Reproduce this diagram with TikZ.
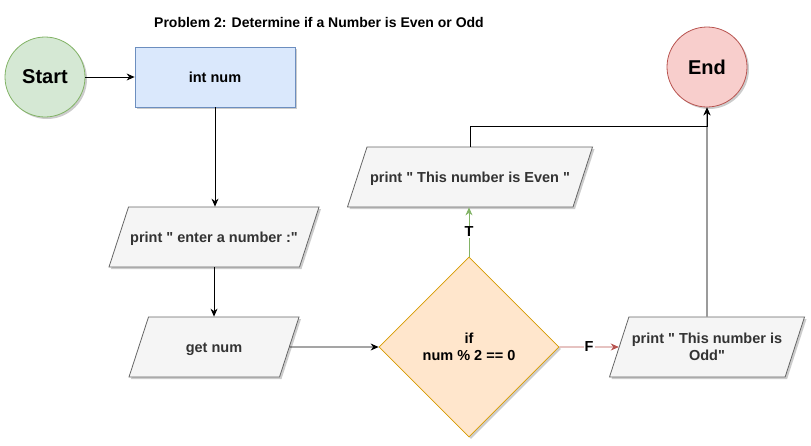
\documentclass[tikz,border=0pt]{standalone}
\usepackage{fontspec}
\setmainfont{Liberation Sans}[Ligatures=TeXOff]
\usepackage{color}
\usetikzlibrary{shapes.geometric,shadows,arrows.meta}

\definecolor{startfill}{HTML}{D5E8D4}
\definecolor{startline}{HTML}{82B366}
\definecolor{endfill}{HTML}{F8CECC}
\definecolor{endline}{HTML}{B85450}
\definecolor{boxfill}{HTML}{DAE8FC}
\definecolor{boxline}{HTML}{6C8EBF}
\definecolor{iofill}{HTML}{F5F5F5}
\definecolor{ioline}{HTML}{666666}
\definecolor{iotext}{HTML}{333333}
\definecolor{condfill}{HTML}{FFE6CC}
\definecolor{condline}{HTML}{D79B00}

\tikzset{
  shade/.style={drop shadow={shadow xshift=2pt, shadow yshift=-2pt, opacity=0.2, fill=black}},
  terminal/.style={circle, minimum size=80, inner sep=0, line width=0.8pt, shade, font=\fontsize{20}{24}\selectfont\bfseries},
  box/.style={rectangle, minimum width=160, minimum height=60, fill=boxfill, draw=boxline, line width=0.8pt, shade},
  io/.style={trapezium, trapezium left angle=72, trapezium right angle=108, trapezium stretches body,
    text height=12.5pt, text depth=2.5pt, inner ysep=22.5pt, inner xsep=0, minimum height=60,
    fill=iofill, draw=ioline, text=iotext, line width=0.8pt, align=center, shade},
  decision/.style={diamond, aspect=1, minimum width=180, minimum height=180, inner sep=0, fill=condfill, draw=condline, line width=0.8pt, align=center, shade},
  tag/.style={fill=white, inner sep=1pt}
}

\begin{document}
\begin{tikzpicture}[x=1pt, y=-1pt, >={Stealth[length=8pt,width=7pt]}, font=\fontsize{14.5}{17}\selectfont\bfseries]
\useasboundingbox (0,0) rectangle (811,445);

\node[font=\fontsize{14}{17}\selectfont\bfseries] (title) at (319,22) {Problem 2: Determine if a Number is Even or Odd};

\node[terminal, fill=startfill, draw=startline] (start) at (45,77) {Start};
\node[box] (intnum) at (215,77) {int num};
\node[io, minimum width=210] (enter) at (214,237) {print " enter a number :"};
\node[io, minimum width=170] (getnum) at (214,347) {get num};
\node[decision] (cond) at (469,347) {if\\num \% 2 == 0};
\node[io, minimum width=245] (even) at (470,177) {print " This number is Even "};
\node[io, minimum width=195, text height=, text depth=, inner ysep=16pt] (odd) at (707,347) {print " This number is\\Odd"};
\node[terminal, fill=endfill, draw=endline] (end) at (707,67) {End};

\draw[black, line width=0.8pt, ->] (start) -- (intnum);
\draw[black, line width=0.8pt, ->] (intnum.south) -- (intnum.south |- enter.north);
\draw[black, line width=0.8pt, ->] (enter.south) -- (enter.south |- getnum.north);
\draw[black, line width=0.8pt, ->] (getnum.east) -- (cond.west);

\draw[startline, line width=0.8pt, ->] (cond.north) -- (cond.north |- even.south) node[tag, text=black, pos=0.5] (t) {T};
\draw[endline, line width=0.8pt, ->] (cond.east) -- (odd.west) node[tag, text=black, pos=0.5] (f) {F};

\draw[ioline, line width=1.2pt, ->] (odd.north) -- (end.south);
\draw[black, line width=0.8pt, ->] (even.north) -- ++(0,-20) -| (end.south);
\end{tikzpicture}
\end{document}
